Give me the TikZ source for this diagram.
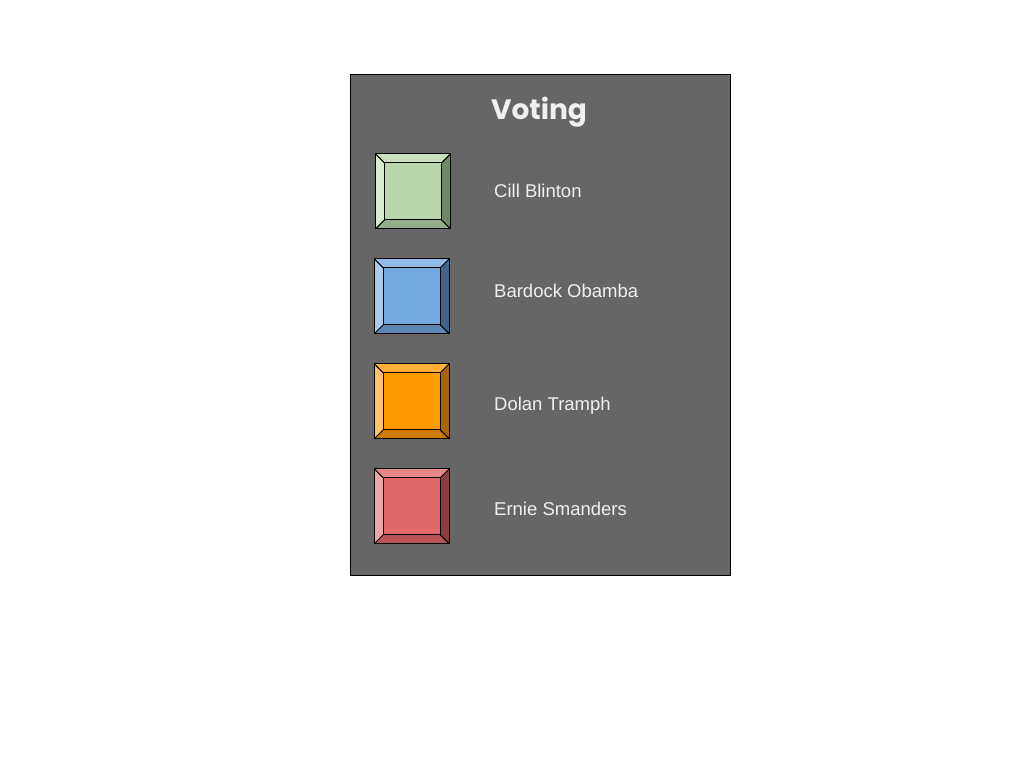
\documentclass[tikz,border=0pt]{standalone}
\usepackage{fontspec}
\setmainfont{Liberation Sans}
\newfontfamily\titlefont{Poppins}
\usetikzlibrary{calc}
\definecolor{panelgray}{HTML}{666666}
\definecolor{txt}{HTML}{F0F0F0}
% green
\definecolor{gC}{HTML}{B7D7AA}
\definecolor{gL}{HTML}{D8EBD0}
\definecolor{gT}{HTML}{C8E1BD}
\definecolor{gR}{HTML}{6E8966}
\definecolor{gB}{HTML}{93AD88}
% blue
\definecolor{bC}{HTML}{72A9DE}
\definecolor{bL}{HTML}{A9CBEC}
\definecolor{bT}{HTML}{8FBBE6}
\definecolor{bR}{HTML}{406487}
\definecolor{bB}{HTML}{5B87B2}
% orange
\definecolor{oC}{HTML}{FF9A00}
\definecolor{oL}{HTML}{FFC466}
\definecolor{oT}{HTML}{FFAF38}
\definecolor{oR}{HTML}{A86400}
\definecolor{oB}{HTML}{CC7A00}
% red
\definecolor{rC}{HTML}{E06868}
\definecolor{rL}{HTML}{EDA6A6}
\definecolor{rT}{HTML}{E78888}
\definecolor{rR}{HTML}{8A3F3F}
\definecolor{rB}{HTML}{B85454}
\tikzset{
  panel/.style={draw=black, line width=0.8pt, fill=panelgray, minimum width=380pt, minimum height=501pt, inner sep=0pt},
  btn/.style={draw=black, line width=1pt, minimum width=74pt, minimum height=74pt, inner sep=0pt},
  lbl/.style={anchor=base west, text=txt, font=\fontsize{18.5}{20}\selectfont, inner sep=0pt},
  ttl/.style={text=txt, font=\titlefont\bfseries\fontsize{28}{30}\selectfont, inner sep=0pt},
  edge/.style={draw=black, line width=1pt}
}
\newcommand\bevelfaces[5]{%
  \coordinate (#1-a) at ($(#1.north west)+(9,9)$);
  \coordinate (#1-b) at ($(#1.north east)+(-9,9)$);
  \coordinate (#1-c) at ($(#1.south east)+(-9,-9)$);
  \coordinate (#1-d) at ($(#1.south west)+(9,-9)$);
  \fill[#2] (#1.north west) -- (#1-a) -- (#1-d) -- (#1.south west) -- cycle;
  \fill[#3] (#1.north west) -- (#1.north east) -- (#1-b) -- (#1-a) -- cycle;
  \fill[#4] (#1.north east) -- (#1.south east) -- (#1-c) -- (#1-b) -- cycle;
  \fill[#5] (#1.south west) -- (#1-d) -- (#1-c) -- (#1.south east) -- cycle;
  \draw[edge] (#1.north west) rectangle (#1.south east);
  \draw[edge] (#1-a) rectangle (#1-c);
  \draw[edge] (#1.north west) -- (#1-a) (#1.north east) -- (#1-b)
              (#1.south east) -- (#1-c) (#1.south west) -- (#1-d);
}
\begin{document}
\begin{tikzpicture}[x=1pt, y=-1pt]
\useasboundingbox (0,0) rectangle (1024,768);
\node[panel] (panel) at (540,324.5) {};
\node[ttl, anchor=base] (title) at (539,119) {Voting};

\node[btn, fill=gC] (b1) at (413,191.3) {};
\bevelfaces{b1}{gL}{gT}{gR}{gB}
\node[btn, fill=bC] (b2) at (411.7,296.3) {};
\bevelfaces{b2}{bL}{bT}{bR}{bB}
\node[btn, fill=oC] (b3) at (411.7,401.3) {};
\bevelfaces{b3}{oL}{oT}{oR}{oB}
\node[btn, fill=rC] (b4) at (411.7,506.3) {};
\bevelfaces{b4}{rL}{rT}{rR}{rB}

\node[lbl] (l1) at (494,197.3) {Cill Blinton};
\node[lbl] (l2) at (494,297.3) {Bardock Obamba};
\node[lbl] (l3) at (494,410.7) {Dolan Tramph};
\node[lbl] (l4) at (494,515.3) {Ernie Smanders};
\end{tikzpicture}
\end{document}
